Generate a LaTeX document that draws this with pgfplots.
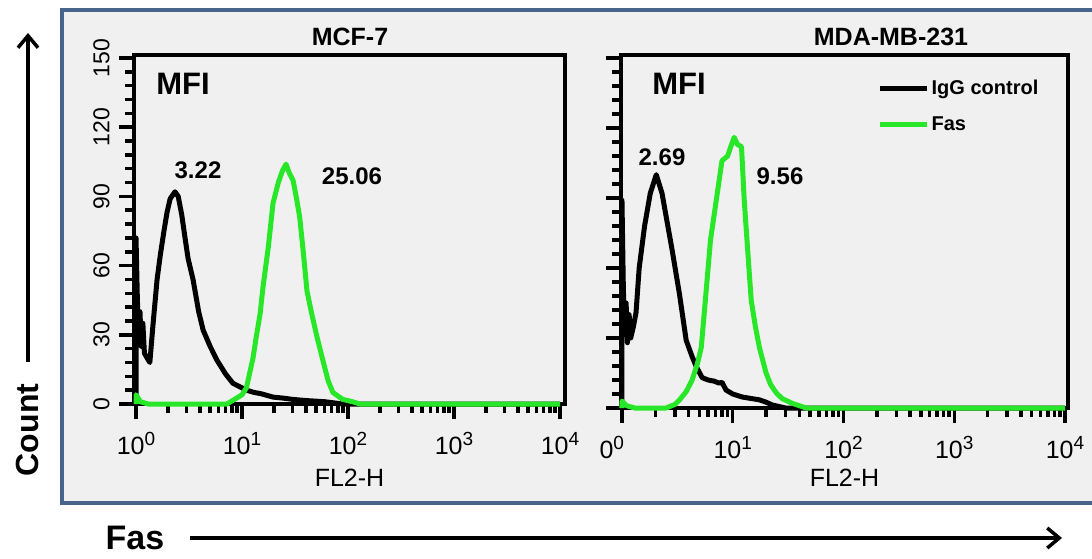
\documentclass[border=0pt]{standalone}
\usepackage{pgfplots}
\pgfplotsset{compat=1.18}
\usepackage{fontspec}
\setmainfont{Liberation Sans}
\usetikzlibrary{arrows.meta}

\definecolor{fasgreen}{RGB}{40,230,40}
\definecolor{framec}{RGB}{72,100,138}
\definecolor{bg}{RGB}{240,240,240}

\newcommand{\expo}[1]{\raisebox{9pt}{\fontsize{19}{19}\selectfont #1}}

\pgfplotsset{
  facspanel/.style={
    scale only axis,
    ymin=0, ymax=151.3,
    clip=false,
    axis background/.style={fill=bg},
    axis line style={line width=3.5pt},
    tick align=outside,
    xtick pos=bottom, ytick pos=left,
    major tick length=15pt, minor tick length=9pt,
    every tick/.style={black, line width=3.5pt},
    xtick={1,10,100,1000,10000},
    minor xtick={2,3,4,5,6,7,8,9,20,30,40,50,60,70,80,90,200,300,400,500,600,700,800,900,2000,3000,4000,5000,6000,7000,8000,9000},
    ytick={0,30,...,150},
    minor y tick num=4,
    /pgf/number format/assume math mode=true,
    xticklabel shift=10pt,
    yticklabel shift=6pt,
    xticklabel style={font=\fontsize{25}{25}\selectfont},
    yticklabel style={font=\fontsize{23}{23}\selectfont, rotate=90, anchor=south},
    xlabel={FL2-H},
    xlabel style={font=\fontsize{25}{25}\selectfont, at={(axis description cs:0.5,0)}, anchor=north},
  },
}

\begin{document}
\begin{tikzpicture}
\useasboundingbox (0pt,0pt) rectangle (1092pt,558pt);

% outer frame
\filldraw[fill=bg, draw=framec, line width=4pt] (62pt,55pt) rectangle (1110pt,548pt);

%%%%% MCF-7
\begin{axis}[facspanel, xmode=log,
  at={(134pt,154pt)}, anchor=south west,
  width=431pt, height=349pt,
  xmin=0.957, xmax=11140,
  xticklabels={10\expo{0},10\expo{1},10\expo{2},10\expo{3},10\expo{4}},
  xlabel style={yshift=-62pt},
]
\addplot[black, line width=5pt, line join=round] coordinates {
(1,0)(1,72)(1.03,45)(1.06,30)(1.09,40)(1.12,25)(1.16,35)(1.2,22)(1.27,20)(1.35,18)
(1.45,35)(1.58,54)(1.7,65)(1.85,76)(1.96,83)(2.1,89)(2.33,92)(2.5,90)(2.7,82)(2.9,72)
(3.1,63)(3.45,54)(3.9,40)(4.3,32)(5.0,25)(5.8,19)(7.0,13)(8.2,9)(9.5,7.5)(11,6)
(13,5)(15,4.5)(19.6,3)(25,2.5)(30,2)(40,1.5)(47,1.3)(60,1)(89,0)(10000,0)};
\addplot[fasgreen, line width=5pt, line join=round] coordinates {
(1,0)(1,4)(1.1,1)(1.3,0)(7.2,0)(8.5,2)(10,4)(11,7)(12.7,20)(13.5,28)
(14.8,39)(15.8,51)(17.7,68)(19.6,87)(22,96)(24,101)(26,104)(28,100)(30.3,97)(33,88)
(35,81)(38,65)(41,49)(45,40)(51,29)(58.6,18)(65,10)(72,5)(89,2)(110,1)(130,0)(10000,0)};
\end{axis}

%%%%% MDA-MB-231
\begin{axis}[facspanel, xmode=log,
  at={(621pt,150pt)}, anchor=south west,
  width=447pt, height=353pt,
  xmin=0.98, xmax=10641,
  xticklabels={\makebox[20pt][r]{0\expo{0}\hspace{8pt}},10\expo{1},10\expo{2},10\expo{3},10\expo{4}},
  yticklabels={},
  xlabel style={yshift=-58pt},
  legend style={at={(0.567,0.94)}, anchor=north west, draw=none, fill=none,
    font=\bfseries\fontsize{20}{20}\selectfont, row sep=16pt, legend cell align=left},
  legend image code/.code={\draw (0pt,0pt) -- (47pt,0pt);},
]
\addplot[black, line width=5pt, line join=round] coordinates {
(1,0)(1,89)(1.03,50)(1.06,35)(1.09,45)(1.12,28)(1.16,40)(1.2,30)(1.27,35)(1.34,41)
(1.43,60)(1.6,78)(1.8,92)(2.04,100)(2.3,92)(2.55,80)(2.83,68)(3.3,49)(3.8,29)(4.3,22)
(4.7,17.6)(5.3,13)(6.0,12)(6.8,11.5)(7.5,10.7)(8.0,11)(8.7,7.7)(10,6)(12.2,4.7)(15,4)
(17.4,3.5)(20,2.5)(22.7,1.3)(30,0)(10000,0)};
\addlegendentry{IgG control}
\addplot[fasgreen, line width=5pt, line join=round] coordinates {
(1,0)(1,3)(1.1,1)(1.3,0)(2.5,0)(3.0,1.5)(3.3,3.4)(3.8,7)(4.3,12)(4.8,19)
(5.2,26)(5.75,50)(6.3,72)(7.1,89)(8,106)(9,108)(9.6,112)(10.3,116)(11,113)(12,112)
(12.7,89)(14.1,58)(14.7,46)(16,35)(17.4,26)(20,15)(22,10)(24.8,6.4)(28,4)(34.5,2)(46,0)(10000,0)};
\addlegendentry{Fas}
\end{axis}

% panel titles and MFI values
\node[font=\bfseries\fontsize{25}{25}\selectfont] at (350pt,521pt) {MCF-7};
\node[font=\bfseries\fontsize{25}{25}\selectfont] at (891pt,521pt) {MDA-MB-231};
\node[font=\bfseries\fontsize{31}{31}\selectfont] at (183pt,474pt) {MFI};
\node[font=\bfseries\fontsize{31}{31}\selectfont] at (679pt,474pt) {MFI};
\node[font=\bfseries\fontsize{24}{24}\selectfont] at (198pt,388pt) {3.22};
\node[font=\bfseries\fontsize{24}{24}\selectfont] at (352pt,382pt) {25.06};
\node[font=\bfseries\fontsize{24}{24}\selectfont] at (662pt,401pt) {2.69};
\node[font=\bfseries\fontsize{24}{24}\selectfont] at (780pt,382pt) {9.56};

% outer axis titles
\node[font=\bfseries\fontsize{32}{32}\selectfont, rotate=90] at (27pt,128pt) {Count};
\draw[line width=3.5pt, -{Straight Barb[length=12pt, width=20pt]}] (28pt,196pt) -- (28pt,525pt);
\node[font=\bfseries\fontsize{34}{34}\selectfont] at (135pt,20pt) {Fas};
\draw[line width=3.5pt, -{Straight Barb[length=12pt, width=20pt]}] (190pt,20pt) -- (1062pt,20pt);
\end{tikzpicture}
\end{document}
